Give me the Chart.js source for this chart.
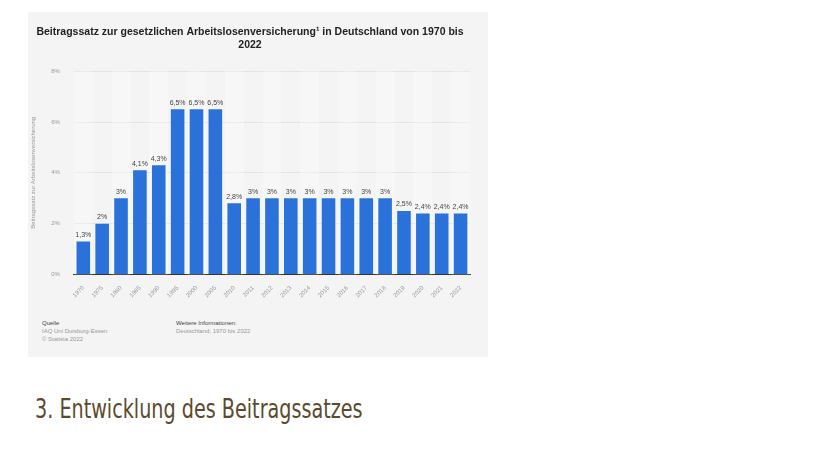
<!DOCTYPE html>
<html><head><meta charset="utf-8">
<script src="https://cdn.jsdelivr.net/npm/chart.js@4"></script>
<style>
body{margin:0;background:#fff;width:828px;height:466px;position:relative;font-family:"Liberation Sans",Arial,sans-serif;overflow:hidden}
#box{position:absolute;left:28px;top:12px;width:460px;height:345px;background:#f4f4f4}
#wrap{position:absolute;left:0;top:0;width:460px;height:289px}
.f{position:absolute;font-size:6px;color:#999;line-height:8px}
.f b{font-weight:normal;color:#444}
h1{position:absolute;left:35px;top:394px;margin:0;font-family:"DejaVu Sans Condensed","Liberation Sans Narrow",sans-serif;font-weight:normal;font-size:26px;color:#5b4a2c;transform:scaleX(0.82);transform-origin:left top;white-space:nowrap}
</style></head><body>
<div id="box"><div id="wrap"><canvas id="c"></canvas></div>
<div class="f" style="left:14px;top:307px"><b>Quelle</b><br>IAQ Uni Duisburg-Essen<br>© Statista 2022</div>
<div class="f" style="left:148px;top:307px"><b>Weitere Informationen:</b><br>Deutschland; 1970 bis 2022</div>
</div>
<h1>3. Entwicklung des Beitragssatzes</h1>
<script>
const years=["1970","1975","1980","1985","1990","1995","2000","2005","2010","2011","2012","2013","2014","2015","2016","2017","2018","2019","2020","2021","2022"];
const rates=[1.3,2,3,4.1,4.3,6.5,6.5,6.5,2.8,3,3,3,3,3,3,3,3,2.5,2.4,2.4,2.4];
const yTicks=[0,2,4,6,8];
const fmt=v=>String(v).replace('.',',')+'%';
const labels={id:'lbl',afterDatasetsDraw(ch){const c=ch.ctx;c.save();c.font='7px "Liberation Sans"';c.fillStyle='#444';c.textAlign='center';c.textBaseline='bottom';
ch.getDatasetMeta(0).data.forEach((b,i)=>c.fillText(fmt(rates[i]),b.x,b.y-3));c.restore();}};
const stripes={id:'str',beforeDatasetsDraw(ch){const c=ch.ctx,a=ch.chartArea;c.save();c.fillStyle='rgba(255,255,255,0.3)';
for(let i=0;i<years.length;i+=2){const w=(a.right-a.left)/years.length;c.fillRect(a.left+i*w,a.top,w,a.bottom-a.top);}c.restore();}};
new Chart(document.getElementById('c'),{type:'bar',
data:{labels:years,datasets:[{data:rates,backgroundColor:'#2a72d9',categoryPercentage:0.72,barPercentage:1}]},
options:{responsive:true,maintainAspectRatio:false,animation:false,
layout:{padding:{left:2,right:18,top:4,bottom:0}},
plugins:{legend:{display:false},tooltip:{enabled:false},
title:{display:true,text:['Beitragssatz zur gesetzlichen Arbeitslosenversicherung¹ in Deutschland von 1970 bis','2022'],font:{family:'Liberation Sans',size:10.5,weight:'bold'},color:'#222',padding:{top:10,bottom:20},lineHeight:1.45}},
scales:{x:{grid:{display:false},border:{color:'#333'},ticks:{font:{size:6},color:'#999',maxRotation:45,minRotation:45,padding:2}},
y:{min:0,max:8,afterBuildTicks:s=>{s.ticks=yTicks.map(v=>({value:v}))},grid:{color:'#e4e4e4',drawTicks:false},border:{display:false},
ticks:{font:{size:6},color:'#999',padding:14,callback:v=>v+'%'},
title:{display:true,text:'Beitragssatz zur Arbeitslosenversicherung',font:{size:6},color:'#999',padding:0}}}},
plugins:[stripes,labels]});
</script></body></html>
